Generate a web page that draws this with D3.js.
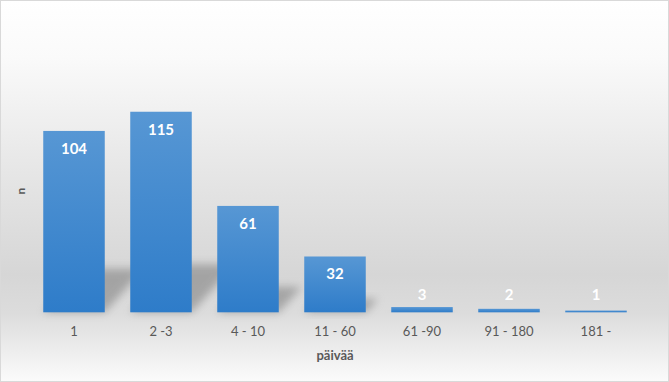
<!DOCTYPE html>
<html><head><meta charset="utf-8">
<script src="https://cdn.jsdelivr.net/npm/d3@7"></script>
<style>html,body{margin:0;padding:0;background:#fff}svg{display:block}</style>
</head><body>
<script>
const categories = ["1", "2 -3", "4 - 10", "11 - 60", "61 -90", "91 - 180", "181 -"];
const values = [104, 115, 61, 32, 3, 2, 1];
const xTitle = "päivää";
const yTitle = "n";

const W = 669, H = 382;
const svg = d3.select("body").append("svg").attr("width", W).attr("height", H);
const defs = svg.append("defs");

const bg = defs.append("linearGradient").attr("id","bg").attr("x1",0).attr("y1",0).attr("x2",0).attr("y2",1);
[[0,"#ffffff"],[0.15,"#fafafa"],[0.45,"#e6e6e6"],[0.72,"#d6d6d6"],[0.82,"#dcdcdc"],[1,"#fbfbfb"]]
  .forEach(([o,c])=>bg.append("stop").attr("offset",o).attr("stop-color",c));

const bar = defs.append("linearGradient").attr("id","bar").attr("x1",0).attr("y1",0).attr("x2",0).attr("y2",1);
[[0,"#5797d4"],[1,"#2e7cc9"]].forEach(([o,c])=>bar.append("stop").attr("offset",o).attr("stop-color",c));

const blur = defs.append("filter").attr("id","blur").attr("x","-50%").attr("y","-50%").attr("width","200%").attr("height","200%");
blur.append("feGaussianBlur").attr("stdDeviation",4);

svg.append("rect").attr("x",0.5).attr("y",0.5).attr("width",W-1).attr("height",H-1)
  .attr("fill","url(#bg)").attr("stroke","#d9d9d9");

const x = d3.scaleBand().domain(categories).range([30.5, 639.5]).paddingInner(0.293).paddingOuter(0.1465);
const y = d3.scaleLinear().domain([0, 140]).range([312.3, 312.3 - 140*1.744]);

const data = categories.map((c,i)=>({c, v: values[i]}));

// perspective shadows
svg.append("g").selectAll("path").data(data).join("path")
  .attr("d", d => {
    const x0 = x(d.c), x1 = x0 + x.bandwidth(), b = y(0);
    const h = (b - y(d.v)) * 0.24, s = h * 0.9;
    return `M${x0},${b}L${x1},${b}L${x1+s},${b-h}L${x0+s},${b-h}Z`;
  })
  .attr("fill","#7a7a7a").attr("opacity",0.55).attr("filter","url(#blur)");

svg.append("g").selectAll("rect").data(data).join("rect")
  .attr("x", d => x(d.c)).attr("width", x.bandwidth())
  .attr("y", d => y(d.v)).attr("height", d => y(0) - y(d.v))
  .attr("fill","url(#bar)");

svg.append("g").selectAll("text").data(data).join("text")
  .attr("x", d => x(d.c) + x.bandwidth()/2)
  .attr("y", d => Math.min(y(d.v) + 17, y(0) - 18))
  .attr("text-anchor","middle").attr("dominant-baseline","central")
  .attr("font-family","Lato, 'Liberation Sans', sans-serif").attr("font-weight","bold")
  .attr("font-size",15).attr("fill","#ffffff")
  .text(d => d.v);

const xAxis = svg.append("g").attr("transform",`translate(0,${y(0)})`)
  .call(d3.axisBottom(x).tickSize(0).tickPadding(0));
xAxis.select(".domain").remove();
xAxis.selectAll("text").attr("y", 19).attr("dy", null).attr("dominant-baseline","central")
  .attr("font-family","Lato, 'Liberation Sans', sans-serif").attr("font-size",13).attr("fill","#595959");

svg.append("text").attr("x", 335).attr("y", 355).attr("text-anchor","middle").attr("dominant-baseline","central")
  .attr("font-family","Lato, 'Liberation Sans', sans-serif").attr("font-weight","bold").attr("font-size",13)
  .attr("fill","#595959").text(xTitle);

svg.append("text").attr("transform","translate(20,191) rotate(-90)").attr("text-anchor","middle")
  .attr("dominant-baseline","central")
  .attr("font-family","Lato, 'Liberation Sans', sans-serif").attr("font-weight","bold").attr("font-size",12)
  .attr("fill","#595959").text(yTitle);
</script>
</body></html>
